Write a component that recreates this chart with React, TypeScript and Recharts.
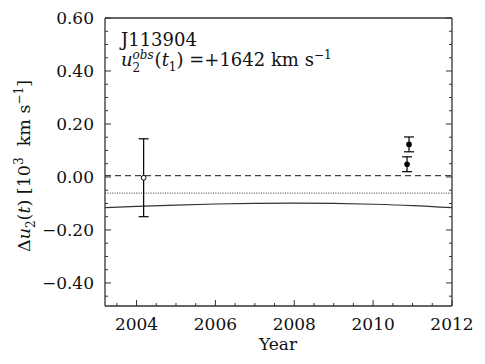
import React from "react";
import {
  ComposedChart,
  Line,
  Scatter,
  ErrorBar,
  XAxis,
  YAxis,
  ReferenceLine,
} from "recharts";

// fitted curve (year, Δu2 in 10^3 km/s)
const curveYears = [2003.2, 2004, 2005, 2006, 2007, 2008, 2009, 2010, 2011, 2012];
const curveValues = [-0.116, -0.111, -0.106, -0.102, -0.1, -0.099, -0.1, -0.103, -0.108, -0.116];

// observations
const openYears = [2004.18];
const openValues = [-0.003];
const openErrors = [0.147];

const filledYears = [2010.91, 2010.86];
const filledValues = [0.123, 0.048];
const filledErrors = [0.028, 0.028];

const zeroLevel = 0.005;
const dottedLevel = -0.061;

const xTicks = [2003.5, 2004, 2004.5, 2005, 2005.5, 2006, 2006.5, 2007, 2007.5, 2008, 2008.5, 2009, 2009.5, 2010, 2010.5, 2011, 2011.5, 2012];
const yTicks = [-0.45, -0.4, -0.35, -0.3, -0.25, -0.2, -0.15, -0.1, -0.05, 0, 0.05, 0.1, 0.15, 0.2, 0.25, 0.3, 0.35, 0.4, 0.45, 0.5, 0.55, 0.6];

const curve = curveYears.map((year, i) => ({ year, value: curveValues[i] }));
const openPts = openYears.map((year, i) => ({ year, value: openValues[i], err: openErrors[i] }));
const filledPts = filledYears.map((year, i) => ({ year, value: filledValues[i], err: filledErrors[i] }));

const FONT = "'DejaVu Serif', serif";
const AXIS = "#333";
const TICK_FS = 17;

const isMajorX = (v: number) => Math.abs(v - Math.round(v)) < 1e-6 && Math.round(v) % 2 === 0;
const isMajorY = (v: number) => Math.abs(v * 5 - Math.round(v * 5)) < 1e-6;

const fmtY = (v: number) => {
  const s = Math.abs(v).toFixed(2);
  return v < -1e-9 ? "\u2212" + s : s;
};

function BottomTick(props: any) {
  const { x, y, payload } = props;
  const major = isMajorX(payload.value);
  return (
    <g>
      <line x1={x} x2={x} y1={y} y2={y - (major ? 6 : 3)} stroke={AXIS} />
      {major && (
        <text x={x} y={y + 24} textAnchor="middle" fontFamily={FONT} fontSize={TICK_FS} fill="#111">
          {payload.value}
        </text>
      )}
    </g>
  );
}

function TopTick(props: any) {
  const { x, y, payload } = props;
  const major = isMajorX(payload.value);
  return <line x1={x} x2={x} y1={y} y2={y + (major ? 6 : 3)} stroke={AXIS} />;
}

function LeftTick(props: any) {
  const { x, y, payload } = props;
  const major = isMajorY(payload.value);
  return (
    <g>
      <line x1={x} x2={x + (major ? 6 : 3)} y1={y} y2={y} stroke={AXIS} />
      {major && (
        <text x={x - 11} y={y + 6} textAnchor="end" fontFamily={FONT} fontSize={TICK_FS} fill="#111">
          {fmtY(payload.value)}
        </text>
      )}
    </g>
  );
}

function RightTick(props: any) {
  const { x, y, payload } = props;
  const major = isMajorY(payload.value);
  return <line x1={x} x2={x - (major ? 6 : 3)} y1={y} y2={y} stroke={AXIS} />;
}

const openDot = (p: any) => (
  <circle cx={p.cx} cy={p.cy} r={2.4} fill="#fff" stroke="#000" strokeWidth={1} />
);
const filledDot = (p: any) => <circle cx={p.cx} cy={p.cy} r={2.8} fill="#000" />;

export default function App() {
  return (
    <div style={{ position: "absolute", left: 0, top: 0, width: 485, height: 364, background: "#fff" }}>
      <ComposedChart width={485} height={364} margin={{ top: 17, right: 32, bottom: 57, left: 104 }}>
        <XAxis
          xAxisId="b"
          type="number"
          dataKey="year"
          domain={[2003.2, 2012]}
          allowDataOverflow
          ticks={xTicks}
          interval={0}
          height={1}
          tickSize={0}
          tickMargin={0}
          tickLine={false}
          tick={<BottomTick />}
          axisLine={{ stroke: AXIS, strokeWidth: 1.3 }}
        />
        <XAxis
          xAxisId="t"
          orientation="top"
          type="number"
          domain={[2003.2, 2012]}
          allowDataOverflow
          ticks={xTicks}
          interval={0}
          height={1}
          tickSize={0}
          tickMargin={0}
          tickLine={false}
          tick={<TopTick />}
          axisLine={{ stroke: AXIS, strokeWidth: 1.3 }}
        />
        <YAxis
          yAxisId="l"
          type="number"
          domain={[-0.487, 0.6]}
          allowDataOverflow
          ticks={yTicks}
          interval={0}
          width={1}
          tickSize={0}
          tickMargin={0}
          tickLine={false}
          tick={<LeftTick />}
          axisLine={{ stroke: AXIS, strokeWidth: 1.3 }}
        />
        <YAxis
          yAxisId="r"
          orientation="right"
          type="number"
          domain={[-0.487, 0.6]}
          allowDataOverflow
          ticks={yTicks}
          interval={0}
          width={1}
          tickSize={0}
          tickMargin={0}
          tickLine={false}
          tick={<RightTick />}
          axisLine={{ stroke: AXIS, strokeWidth: 1.3 }}
        />
        <ReferenceLine xAxisId="b" yAxisId="l" y={zeroLevel} stroke="#444" strokeWidth={1.2} strokeDasharray="6 4" />
        <ReferenceLine xAxisId="b" yAxisId="l" y={dottedLevel} stroke="#333" strokeWidth={1} strokeDasharray="1 1.4" />
        <Line
          xAxisId="b"
          yAxisId="l"
          data={curve}
          dataKey="value"
          type="monotone"
          dot={false}
          stroke="#333"
          strokeWidth={1.2}
          isAnimationActive={false}
        />
        <Scatter xAxisId="b" yAxisId="l" data={openPts} dataKey="value" shape={openDot} isAnimationActive={false}>
          <ErrorBar dataKey="err" direction="y" width={5} stroke="#000" strokeWidth={1.2} />
        </Scatter>
        <Scatter xAxisId="b" yAxisId="l" data={filledPts} dataKey="value" shape={filledDot} isAnimationActive={false}>
          <ErrorBar dataKey="err" direction="y" width={5} stroke="#000" strokeWidth={1.2} />
        </Scatter>
      </ComposedChart>

      <div style={{ position: "absolute", left: 121, top: 30, fontFamily: FONT, fontSize: 18, lineHeight: "20px", color: "#111" }}>
        <div>J113904</div>
        <div style={{ whiteSpace: "nowrap" }}>
          <i>u</i>
          <span style={{ display: "inline-block", position: "relative", width: 22, height: 0 }}>
            <i style={{ position: "absolute", left: 0, top: -16, fontSize: 12, lineHeight: "11px" }}>obs</i>
            <span style={{ position: "absolute", left: 0, top: -4, fontSize: 12, lineHeight: "12px" }}>2</span>
          </span>
          (<i>t</i>
          <sub style={{ fontSize: 12, lineHeight: 0 }}>1</sub>) =+1642 km s<sup style={{ fontSize: 12, lineHeight: 0 }}>−1</sup>
        </div>
      </div>

      <div
        style={{
          position: "absolute",
          left: 24 - 110,
          top: 166 - 10,
          width: 220,
          height: 20,
          lineHeight: "20px",
          textAlign: "center",
          transform: "rotate(-90deg)",
          fontFamily: FONT,
          fontSize: 17.5,
          color: "#111",
          whiteSpace: "nowrap",
        }}
      >
        Δ<i>u</i>
        <sub style={{ fontSize: 12, lineHeight: 0 }}>2</sub>(<i>t</i>) [10<sup style={{ fontSize: 12, lineHeight: 0 }}>3</sup>&nbsp; km s<sup style={{ fontSize: 12, lineHeight: 0 }}>−1</sup>]
      </div>

      <div
        style={{
          position: "absolute",
          left: 228,
          width: 100,
          top: 334,
          textAlign: "center",
          fontFamily: FONT,
          fontSize: TICK_FS,
          color: "#111",
        }}
      >
        Year
      </div>
    </div>
  );
}
